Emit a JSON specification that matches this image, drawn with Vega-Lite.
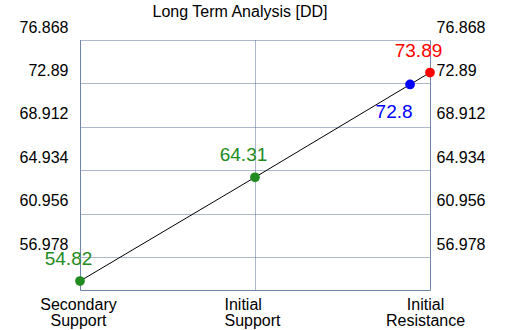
{
  "$schema": "https://vega.github.io/schema/vega-lite/v6.json",
  "width": 350,
  "height": 250,
  "autosize": {"type": "none"},
  "padding": {"left": 80, "top": 40, "right": 80, "bottom": 40},
  "background": "white",
  "config": {"font": "Liberation Sans", "view": {"stroke": null}},
  "title": {
    "text": "Long Term Analysis [DD]",
    "fontSize": 16,
    "fontWeight": "normal",
    "color": "black",
    "anchor": "middle",
    "frame": "group",
    "dx": -15,
    "offset": -14,
    "baseline": "alphabetic"
  },
  "data": {
    "values": [
      {"label": "Secondary Support", "pos": 0, "value": 54.82, "kind": "Support"},
      {"label": "Initial Support", "pos": 1, "value": 64.31, "kind": "Support"},
      {"label": "Current", "pos": 1.886, "value": 72.8, "kind": "Price"},
      {"label": "Initial Resistance", "pos": 2, "value": 73.89, "kind": "Resistance"}
    ]
  },
  "encoding": {
    "x": {
      "field": "pos",
      "type": "quantitative",
      "scale": {"domain": [0, 2], "nice": false, "zero": false},
      "axis": {
        "values": [0, 1, 2],
        "labelExpr": "datum.value == 0 ? ['Secondary', 'Support'] : datum.value == 1 ? ['Initial', 'Support'] : ['Initial', 'Resistance']",
        "grid": true,
        "gridColor": "#5d7099",
        "gridDash": [1, 1],
        "gridOpacity": 1,
        "domain": true,
        "domainColor": "#7084a8",
        "domainWidth": 1,
        "ticks": false,
        "tickSize": 0,
        "labelPadding": 6,
        "labelFontSize": 16,
        "labelLineHeight": 16,
        "labelColor": "black",
        "labelFlush": false,
        "labelOverlap": false,
        "labelBaseline": "top",
        "labelAlign": {"condition": {"test": "datum.value == 1", "value": "left"}, "value": "center"},
        "labelOffset": {"condition": [{"test": "datum.value == 1", "value": -31}, {"test": "datum.value == 2", "value": -5}], "value": -2},
        "title": null
      }
    },
    "y": {
      "field": "value",
      "type": "quantitative",
      "scale": {"domain": [54, 76.868], "nice": false, "zero": false},
      "axis": null
    }
  },
  "layer": [
    {
      "mark": {"type": "line", "color": "black", "strokeWidth": 1},
      "encoding": {
        "y": {
          "field": "value",
          "type": "quantitative",
          "scale": {"domain": [54, 76.868], "nice": false, "zero": false},
          "axis": {
            "orient": "left",
            "values": [56.978, 60.956, 64.934, 68.912, 72.89, 76.868],
            "format": ".3~f",
            "grid": true,
            "gridColor": "#5d7099",
            "gridDash": [1, 1],
            "gridOpacity": 1,
            "domain": true,
            "domainColor": "#7084a8",
            "ticks": false,
            "tickSize": 0,
            "labelPadding": 12,
            "labelOffset": -13,
            "labelFontSize": 16,
            "labelColor": "black",
            "labelOverlap": false,
            "title": null
          }
        }
      }
    },
    {
      "mark": {"type": "point", "filled": true, "opacity": 1, "size": 95},
      "encoding": {
        "y": {
          "field": "value",
          "type": "quantitative",
          "scale": {"domain": [54, 76.868], "nice": false, "zero": false},
          "axis": {
            "orient": "right",
            "values": [56.978, 60.956, 64.934, 68.912, 72.89, 76.868],
            "format": ".3~f",
            "grid": false,
            "domain": true,
            "domainColor": "#7084a8",
            "ticks": false,
            "tickSize": 0,
            "labelPadding": 6,
            "labelOffset": -13,
            "labelFontSize": 16,
            "labelColor": "black",
            "labelOverlap": false,
            "title": null
          }
        },
        "color": {
          "field": "kind",
          "type": "nominal",
          "scale": {"domain": ["Support", "Price", "Resistance"], "range": ["#228b22", "#0000ff", "#ff0000"]},
          "legend": null
        }
      }
    },
    {
      "transform": [{"filter": "datum.kind != 'Price'"}],
      "mark": {"type": "text", "fontSize": 19, "dx": -11.5, "dy": -22, "align": "center", "baseline": "middle"},
      "encoding": {
        "text": {"field": "value", "type": "quantitative", "format": ".2~f"},
        "color": {
          "field": "kind",
          "type": "nominal",
          "scale": {"domain": ["Support", "Price", "Resistance"], "range": ["#228b22", "#0000ff", "#ff0000"]},
          "legend": null
        }
      }
    },
    {
      "transform": [{"filter": "datum.kind == 'Price'"}],
      "mark": {"type": "text", "fontSize": 19, "dx": -16, "dy": 28, "align": "center", "baseline": "middle"},
      "encoding": {
        "text": {"field": "value", "type": "quantitative", "format": ".2~f"},
        "color": {
          "field": "kind",
          "type": "nominal",
          "scale": {"domain": ["Support", "Price", "Resistance"], "range": ["#228b22", "#0000ff", "#ff0000"]},
          "legend": null
        }
      }
    }
  ],
  "resolve": {"axis": {"y": "independent"}}
}
